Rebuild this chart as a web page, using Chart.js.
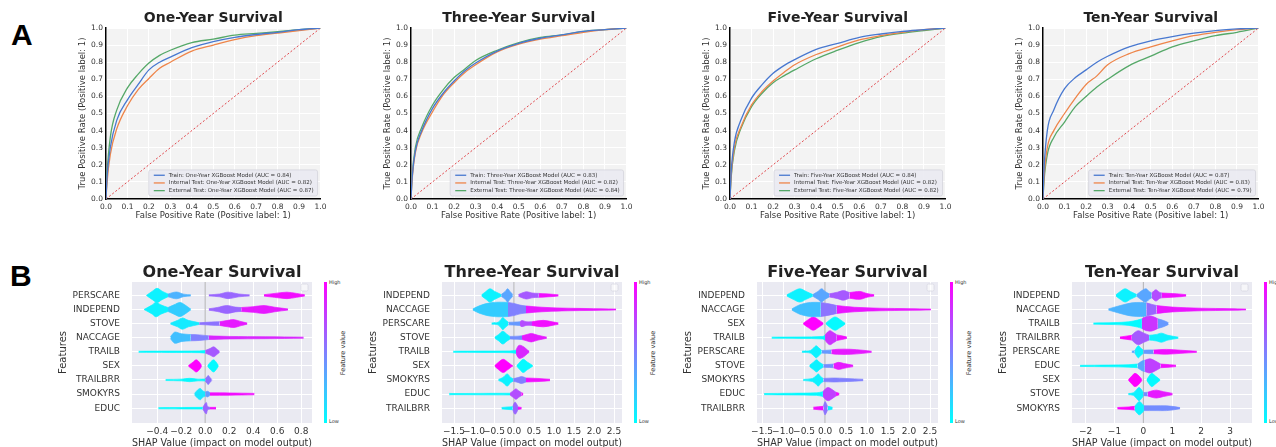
<!DOCTYPE html>
<html>
<head>
<meta charset="utf-8">
<script src="https://cdn.jsdelivr.net/npm/chart.js@4.4.1/dist/chart.umd.min.js"></script>
<style>
  body { margin: 0; width: 1276px; height: 447px; overflow: hidden; background: #fff; position: relative; font-family: 'DejaVu Sans', sans-serif; }
  canvas { position: absolute; }
  .tag { position: absolute; font: bold 30px 'Liberation Sans', Arial, sans-serif; color: #000; line-height: 1; }
  .cbar { position: absolute; width: 3px; background: linear-gradient(to top, #00ffff, #ff00ff); }
  .cb-t { position: absolute; font-size: 5px; color: #333; line-height: 1; }
  .cb-lab { position: absolute; font-size: 6.5px; color: #333; white-space: nowrap; transform: translate(-50%, -50%) rotate(-90deg); }
</style>
</head>
<body>
<div class="tag" style="left:11px;top:20px">A</div>
<div class="tag" style="left:10px;top:261px">B</div>
<script>
/* ROC curves + SHAP summaries, four survival horizons */

// ---------- ROC data ----------
const ROC_FPR = [0, 0.005, 0.02, 0.05, 0.1, 0.15, 0.2, 0.25, 0.3, 0.4, 0.5, 0.6, 0.7, 0.8, 0.9, 1.0];

const ROC1_TRAIN    = [0, 0.13, 0.30, 0.46, 0.58, 0.67, 0.755, 0.80, 0.83, 0.885, 0.92, 0.945, 0.962, 0.975, 0.99, 1];
const ROC1_INTERNAL = [0, 0.10, 0.26, 0.41, 0.545, 0.64, 0.705, 0.765, 0.80, 0.865, 0.90, 0.932, 0.955, 0.97, 0.985, 1];
const ROC1_EXTERNAL = [0, 0.15, 0.36, 0.52, 0.65, 0.73, 0.795, 0.84, 0.87, 0.915, 0.935, 0.958, 0.968, 0.978, 0.99, 1];

const ROC2_TRAIN    = [0, 0.12, 0.28, 0.40, 0.53, 0.62, 0.69, 0.75, 0.795, 0.865, 0.91, 0.94, 0.96, 0.98, 0.99, 1];
const ROC2_INTERNAL = [0, 0.11, 0.27, 0.39, 0.51, 0.61, 0.68, 0.74, 0.785, 0.86, 0.905, 0.935, 0.955, 0.975, 0.99, 1];
const ROC2_EXTERNAL = [0, 0.13, 0.30, 0.42, 0.55, 0.64, 0.71, 0.76, 0.81, 0.87, 0.915, 0.945, 0.96, 0.98, 0.99, 1];

const ROC3_TRAIN    = [0, 0.15, 0.33, 0.46, 0.59, 0.67, 0.735, 0.78, 0.815, 0.875, 0.91, 0.945, 0.965, 0.98, 0.99, 1];
const ROC3_INTERNAL = [0, 0.13, 0.30, 0.42, 0.55, 0.63, 0.69, 0.74, 0.785, 0.845, 0.89, 0.93, 0.955, 0.975, 0.99, 1];
const ROC3_EXTERNAL = [0, 0.12, 0.28, 0.41, 0.54, 0.62, 0.68, 0.72, 0.755, 0.82, 0.87, 0.915, 0.95, 0.97, 0.985, 1];

const ROC4_TRAIN    = [0, 0.18, 0.40, 0.52, 0.645, 0.71, 0.755, 0.80, 0.835, 0.89, 0.925, 0.95, 0.97, 0.985, 0.995, 1];
const ROC4_INTERNAL = [0, 0.13, 0.30, 0.40, 0.50, 0.59, 0.67, 0.72, 0.785, 0.85, 0.89, 0.925, 0.955, 0.975, 0.99, 1];
const ROC4_EXTERNAL = [0, 0.11, 0.26, 0.36, 0.45, 0.54, 0.60, 0.655, 0.70, 0.78, 0.835, 0.89, 0.925, 0.955, 0.975, 1];

const ROC_TITLES = ['One-Year Survival', 'Three-Year Survival', 'Five-Year Survival', 'Ten-Year Survival'];
const ROC_HORIZONS = ['One-Year', 'Three-Year', 'Five-Year', 'Ten-Year'];
const AUC_TRAIN    = ['0.84', '0.83', '0.84', '0.87'];
const AUC_INTERNAL = ['0.82', '0.82', '0.82', '0.83'];
const AUC_EXTERNAL = ['0.87', '0.84', '0.82', '0.79'];

// ---------- SHAP data ----------
// each violin piece: [feature value 0..1, [[shap value, half height in rows], ...]]
const SHAP1_FEATURES = ['PERSCARE', 'INDEPEND', 'STOVE', 'NACCAGE', 'TRAILB', 'SEX', 'TRAILBRR', 'SMOKYRS', 'EDUC'];
const SHAP1_TICKS = [-0.4, -0.2, 0, 0.2, 0.4, 0.6, 0.8];
const SHAP1_VIOLINS = [
  [[0.05, [[-0.49, 0], [-0.44, 0.3], [-0.40, 0.5], [-0.36, 0.3], [-0.31, 0.1]]],
   [0.3, [[-0.31, 0.1], [-0.24, 0.24], [-0.18, 0.09], [-0.12, 0.04]]],
   [0.6, [[0.03, 0.04], [0.12, 0.1], [0.19, 0.23], [0.28, 0.1], [0.37, 0.04]]],
   [0.95, [[0.49, 0.05], [0.58, 0.14], [0.68, 0.23], [0.76, 0.14], [0.83, 0.04]]]],
  [[0.05, [[-0.51, 0], [-0.44, 0.33], [-0.41, 0.52], [-0.37, 0.33], [-0.31, 0.14]]],
   [0.2, [[-0.31, 0.14], [-0.26, 0.33], [-0.21, 0.5], [-0.17, 0.33], [-0.13, 0.09], [-0.12, 0.04]]],
   [0.6, [[0.03, 0.05], [0.1, 0.14], [0.18, 0.28], [0.25, 0.17], [0.3, 0.14]]],
   [0.9, [[0.3, 0.14], [0.4, 0.2], [0.49, 0.28], [0.58, 0.16], [0.69, 0.04]]]],
  [[0.08, [[-0.29, 0.03], [-0.23, 0.23], [-0.19, 0.4], [-0.14, 0.23], [-0.05, 0.06]]],
   [0.55, [[-0.05, 0.06], [0.05, 0.11], [0.12, 0.13]]],
   [0.9, [[0.12, 0.13], [0.19, 0.23], [0.24, 0.28], [0.3, 0.14], [0.35, 0.04]]]],
  [[0.25, [[-0.29, 0.06], [-0.27, 0.28], [-0.25, 0.4], [-0.2, 0.28], [-0.12, 0.22]]],
   [0.5, [[-0.12, 0.22], [-0.05, 0.2], [0.03, 0.13]]],
   [0.85, [[0.03, 0.13], [0.2, 0.09], [0.5, 0.07], [0.82, 0.04]]]],
  [[0.02, [[-0.555, 0.04], [-0.3, 0.05], [-0.05, 0.06], [0.0, 0.09]]],
   [0.65, [[0.0, 0.09], [0.04, 0.23], [0.07, 0.35], [0.1, 0.17], [0.12, 0.04]]]],
  [[1.0, [[-0.14, 0.02], [-0.1, 0.28], [-0.075, 0.43], [-0.05, 0.28], [-0.03, 0.02]]],
   [0.02, [[0.02, 0.02], [0.045, 0.28], [0.07, 0.43], [0.09, 0.28], [0.11, 0.02]]]],
  [[0.02, [[-0.33, 0.04], [-0.2, 0.06], [-0.13, 0.12], [-0.06, 0.06], [0.0, 0.07]]],
   [0.55, [[0.0, 0.07], [0.015, 0.23], [0.025, 0.32], [0.04, 0.17], [0.055, 0.04]]]],
  [[0.1, [[-0.09, 0.04], [-0.06, 0.32], [-0.04, 0.4], [-0.02, 0.23], [0.0, 0.14]]],
   [0.4, [[0.0, 0.14], [0.02, 0.2], [0.04, 0.09]]],
   [0.95, [[0.04, 0.09], [0.2, 0.08], [0.41, 0.05]]]],
  [[0.02, [[-0.39, 0.04], [-0.2, 0.05], [-0.02, 0.06]]],
   [0.6, [[-0.02, 0.06], [0.0, 0.34], [0.01, 0.4], [0.02, 0.12], [0.04, 0.06]]],
   [0.95, [[0.04, 0.06], [0.09, 0.06]]]],
];

const SHAP2_FEATURES = ['INDEPEND', 'NACCAGE', 'PERSCARE', 'STOVE', 'TRAILB', 'SEX', 'SMOKYRS', 'EDUC', 'TRAILBRR'];
const SHAP2_TICKS = [-1.5, -1.0, -0.5, 0, 0.5, 1.0, 1.5, 2.0, 2.5];
const SHAP2_VIOLINS = [
  [[0.05, [[-0.81, 0.04], [-0.7, 0.28], [-0.6, 0.47], [-0.48, 0.28], [-0.32, 0.06]]],
   [0.35, [[-0.32, 0.06], [-0.22, 0.28], [-0.16, 0.47], [-0.1, 0.28], [-0.03, 0.06]]],
   [0.65, [[0.11, 0.06], [0.2, 0.17], [0.32, 0.26], [0.45, 0.17], [0.62, 0.14]]],
   [0.95, [[0.62, 0.14], [0.8, 0.11], [1.0, 0.07], [1.11, 0.04]]]],
  [[0.2, [[-1.03, 0.04], [-0.85, 0.28], [-0.6, 0.47], [-0.35, 0.52], [-0.15, 0.5]]],
   [0.5, [[-0.15, 0.5], [0.0, 0.43], [0.15, 0.31], [0.3, 0.25]]],
   [0.92, [[0.3, 0.25], [0.7, 0.16], [1.2, 0.1], [1.8, 0.07], [2.55, 0.03]]]],
  [[0.05, [[-0.56, 0.04], [-0.4, 0.09], [-0.33, 0.28], [-0.28, 0.43], [-0.22, 0.28], [-0.14, 0.09]]],
   [0.4, [[-0.14, 0.09], [0.05, 0.11], [0.15, 0.13]]],
   [0.7, [[0.15, 0.13], [0.2, 0.22], [0.3, 0.13], [0.45, 0.13]]],
   [0.95, [[0.45, 0.13], [0.73, 0.23], [0.95, 0.13], [1.11, 0.05]]]],
  [[0.05, [[-0.48, 0.04], [-0.38, 0.23], [-0.28, 0.45], [-0.18, 0.25], [-0.1, 0.09]]],
   [0.45, [[-0.1, 0.09], [0.1, 0.11], [0.2, 0.13]]],
   [0.9, [[0.2, 0.13], [0.35, 0.25], [0.44, 0.3], [0.6, 0.17], [0.82, 0.04]]]],
  [[0.02, [[-1.52, 0.04], [-0.8, 0.05], [-0.1, 0.06], [0.05, 0.11]]],
   [0.85, [[0.05, 0.11], [0.1, 0.4], [0.15, 0.47], [0.25, 0.34], [0.33, 0.14], [0.38, 0.04]]]],
  [[1.0, [[-0.48, 0.02], [-0.38, 0.28], [-0.27, 0.47], [-0.16, 0.28], [-0.06, 0.06], [-0.03, 0.02]]],
   [0.02, [[0.07, 0.02], [0.15, 0.28], [0.23, 0.47], [0.33, 0.28], [0.47, 0.02]]]],
  [[0.05, [[-0.39, 0.04], [-0.28, 0.17], [-0.17, 0.43], [-0.08, 0.17], [-0.02, 0.09]]],
   [0.5, [[-0.02, 0.09], [0.1, 0.17], [0.19, 0.25], [0.3, 0.14]]],
   [0.95, [[0.3, 0.14], [0.6, 0.11], [0.9, 0.05]]]],
  [[0.02, [[-1.62, 0.05], [-1.55, 0.04], [-0.8, 0.05], [-0.1, 0.06]]],
   [0.7, [[-0.1, 0.06], [0.0, 0.28], [0.05, 0.37], [0.12, 0.23], [0.18, 0.11]]],
   [0.95, [[0.18, 0.11], [0.23, 0.05]]]],
  [[0.05, [[-0.31, 0.05], [-0.15, 0.09], [-0.03, 0.11]]],
   [0.6, [[-0.03, 0.11], [0.0, 0.34], [0.03, 0.43], [0.07, 0.28], [0.1, 0.09]]],
   [0.95, [[0.1, 0.09], [0.19, 0.05]]]],
];

const SHAP3_FEATURES = ['INDEPEND', 'NACCAGE', 'SEX', 'TRAILB', 'PERSCARE', 'STOVE', 'SMOKYRS', 'EDUC', 'TRAILBRR'];
const SHAP3_TICKS = [-1.5, -1.0, -0.5, 0, 0.5, 1.0, 1.5, 2.0, 2.5];
const SHAP3_VIOLINS = [
  [[0.05, [[-0.91, 0.04], [-0.76, 0.28], [-0.6, 0.47], [-0.45, 0.28], [-0.29, 0.06]]],
   [0.35, [[-0.29, 0.06], [-0.17, 0.28], [-0.08, 0.47], [0.0, 0.28], [0.1, 0.11]]],
   [0.65, [[0.1, 0.11], [0.3, 0.23], [0.44, 0.34], [0.58, 0.2]]],
   [0.95, [[0.58, 0.2], [0.83, 0.28], [1.0, 0.13], [1.17, 0.05]]]],
  [[0.25, [[-0.79, 0.04], [-0.6, 0.34], [-0.35, 0.5], [-0.1, 0.5]]],
   [0.55, [[-0.1, 0.5], [0.1, 0.4], [0.28, 0.28]]],
   [0.92, [[0.28, 0.28], [0.7, 0.16], [1.3, 0.09], [2.0, 0.06], [2.52, 0.03]]]],
  [[1.0, [[-0.52, 0.02], [-0.4, 0.28], [-0.28, 0.47], [-0.16, 0.28], [-0.04, 0.03]]],
   [0.02, [[0.02, 0.03], [0.12, 0.28], [0.24, 0.47], [0.36, 0.28], [0.48, 0.02]]]],
  [[0.02, [[-1.27, 0.04], [-0.6, 0.05], [-0.05, 0.09], [0.0, 0.17]]],
   [0.8, [[0.0, 0.17], [0.06, 0.4], [0.12, 0.5], [0.2, 0.36], [0.28, 0.2]]],
   [0.95, [[0.28, 0.2], [0.4, 0.13], [0.52, 0.05]]]],
  [[0.05, [[-0.55, 0.04], [-0.35, 0.09], [-0.27, 0.28], [-0.21, 0.43], [-0.15, 0.28], [-0.08, 0.09]]],
   [0.4, [[-0.08, 0.09], [0.05, 0.11], [0.15, 0.13]]],
   [0.9, [[0.15, 0.13], [0.3, 0.18], [0.6, 0.18], [0.9, 0.11], [1.11, 0.04]]]],
  [[0.05, [[-0.37, 0.04], [-0.27, 0.28], [-0.2, 0.43], [-0.13, 0.25], [-0.04, 0.09]]],
   [0.45, [[-0.04, 0.09], [0.1, 0.11], [0.2, 0.13]]],
   [0.9, [[0.2, 0.13], [0.32, 0.25], [0.45, 0.17], [0.67, 0.05]]]],
  [[0.05, [[-0.52, 0.04], [-0.3, 0.11], [-0.22, 0.28], [-0.16, 0.43], [-0.1, 0.23], [-0.04, 0.11]]],
   [0.5, [[-0.04, 0.11], [0.2, 0.14], [0.5, 0.11], [0.91, 0.05]]]],
  [[0.02, [[-1.45, 0.04], [-0.8, 0.06], [-0.2, 0.09], [-0.05, 0.17]]],
   [0.75, [[-0.05, 0.17], [0.02, 0.4], [0.08, 0.47], [0.16, 0.34], [0.26, 0.13]]],
   [0.95, [[0.26, 0.13], [0.34, 0.05]]]],
  [[0.95, [[-0.28, 0.07], [-0.15, 0.11], [-0.04, 0.13]]],
   [0.55, [[-0.04, 0.13], [-0.02, 0.34], [0.0, 0.47], [0.03, 0.34], [0.06, 0.13]]],
   [0.05, [[0.06, 0.13], [0.12, 0.11], [0.18, 0.06]]]],
];

const SHAP4_FEATURES = ['INDEPEND', 'NACCAGE', 'TRAILB', 'TRAILBRR', 'PERSCARE', 'EDUC', 'SEX', 'STOVE', 'SMOKYRS'];
const SHAP4_TICKS = [-2, -1, 0, 1, 2, 3];
const SHAP4_VIOLINS = [
  [[0.05, [[-0.95, 0.04], [-0.8, 0.28], [-0.63, 0.47], [-0.45, 0.28], [-0.23, 0.06]]],
   [0.35, [[-0.23, 0.06], [-0.05, 0.34], [0.09, 0.47], [0.2, 0.28], [0.29, 0.17]]],
   [0.7, [[0.29, 0.17], [0.43, 0.4], [0.55, 0.23], [0.64, 0.17]]],
   [0.95, [[0.64, 0.17], [1.0, 0.13], [1.3, 0.09], [1.48, 0.05]]]],
  [[0.3, [[-1.21, 0.04], [-0.8, 0.28], [-0.4, 0.47], [-0.1, 0.5], [0.1, 0.47]]],
   [0.6, [[0.1, 0.47], [0.3, 0.36], [0.46, 0.28]]],
   [0.92, [[0.46, 0.28], [1.0, 0.17], [2.0, 0.09], [3.0, 0.06], [3.55, 0.03]]]],
  [[0.02, [[-1.73, 0.04], [-1.0, 0.07], [-0.5, 0.13], [-0.2, 0.25], [-0.05, 0.34]]],
   [0.8, [[-0.05, 0.34], [0.1, 0.5], [0.3, 0.52], [0.5, 0.34]]],
   [0.4, [[0.5, 0.34], [0.7, 0.22], [0.87, 0.06]]]],
  [[1.0, [[-0.81, 0.05], [-0.6, 0.11], [-0.4, 0.17]]],
   [0.65, [[-0.4, 0.17], [-0.28, 0.4], [-0.17, 0.5], [0.0, 0.34], [0.2, 0.17]]],
   [0.05, [[0.2, 0.17], [0.45, 0.23], [0.63, 0.32], [0.85, 0.17], [1.21, 0.04]]]],
  [[0.35, [[-0.4, 0.04], [-0.3, 0.07]]],
   [0.05, [[-0.3, 0.07], [-0.22, 0.34], [-0.17, 0.43], [-0.1, 0.28], [0.0, 0.11]]],
   [0.4, [[0.0, 0.11], [0.2, 0.13], [0.35, 0.13]]],
   [0.95, [[0.35, 0.13], [0.8, 0.17], [1.3, 0.11], [1.85, 0.04]]]],
  [[0.02, [[-2.19, 0.04], [-1.2, 0.06], [-0.5, 0.09], [-0.2, 0.13]]],
   [0.35, [[-0.2, 0.13], [-0.05, 0.34], [0.05, 0.4]]],
   [0.75, [[0.05, 0.4], [0.23, 0.5], [0.42, 0.34], [0.6, 0.13]]],
   [0.95, [[0.6, 0.13], [0.9, 0.09], [1.13, 0.05]]]],
  [[1.0, [[-0.52, 0.02], [-0.4, 0.28], [-0.29, 0.47], [-0.15, 0.28], [-0.05, 0.03]]],
   [0.02, [[0.12, 0.03], [0.2, 0.28], [0.29, 0.47], [0.42, 0.28], [0.58, 0.02]]]],
  [[0.05, [[-0.52, 0.04], [-0.35, 0.09], [-0.25, 0.28], [-0.15, 0.47], [-0.05, 0.28], [0.0, 0.11]]],
   [0.45, [[0.0, 0.11], [0.15, 0.13]]],
   [0.9, [[0.15, 0.13], [0.3, 0.23], [0.46, 0.28], [0.7, 0.17], [1.01, 0.05]]]],
  [[1.0, [[-0.9, 0.05], [-0.5, 0.09], [-0.3, 0.13]]],
   [0.05, [[-0.3, 0.13], [-0.22, 0.34], [-0.14, 0.47], [-0.05, 0.34], [0.02, 0.17]]],
   [0.45, [[0.02, 0.17], [0.4, 0.17], [0.8, 0.17], [1.0, 0.13], [1.27, 0.04]]]],
];

// ---------- layout (pixels) ----------
const ROC_BOXES  = [[106, 322], [411, 628], [730, 947], [1043, 1260]];
const ROC_TOP = 28, ROC_BOTTOM = 199;
const SHAP_BOXES = [[132, 312], [442, 622], [757, 938], [1072, 1252]];
const SHAP_RANGES = [[-0.61, 0.89], [-1.8, 2.7], [-1.62, 2.69], [-2.47, 3.76]];
const SHAP_TOP = 282, SHAP_BOTTOM = 423;

const C = { blue: '#4878d0', orange: '#ee854a', green: '#55a868', diag: '#e0474c' };
const FONT = "'DejaVu Sans', sans-serif";

Chart.defaults.font.family = FONT;
Chart.defaults.color = '#333';
Chart.defaults.animation = false;
Chart.defaults.events = [];
Chart.defaults.plugins.legend.display = false;
Chart.defaults.plugins.tooltip.enabled = false;

function makeCanvas(left, top, w, h) {
  const c = document.createElement('canvas');
  c.width = w; c.height = h;
  c.style.left = left + 'px'; c.style.top = top + 'px';
  c.style.width = w + 'px'; c.style.height = h + 'px';
  document.body.appendChild(c);
  return c;
}

const plotBg = {
  id: 'plotBg',
  beforeDraw(chart, args, opts) {
    const { ctx, chartArea: a } = chart;
    ctx.save();
    ctx.fillStyle = opts.color;
    ctx.fillRect(a.left, a.top, a.width, a.height);
    ctx.restore();
  }
};

const panelTitle = {
  id: 'panelTitle',
  afterDraw(chart, args, opts) {
    const { ctx, chartArea: a } = chart;
    ctx.save();
    ctx.font = `bold ${opts.size}px ${FONT}`;
    ctx.fillStyle = '#222';
    ctx.textAlign = 'center';
    ctx.textBaseline = 'middle';
    ctx.fillText(opts.text, (a.left + a.right) / 2, a.top - opts.gap);
    ctx.restore();
  }
};

const rocLegend = {
  id: 'rocLegend',
  afterDatasetsDraw(chart) {
    const { ctx, chartArea: a } = chart;
    const items = chart.data.datasets.filter(d => d.label);
    ctx.save();
    ctx.font = `5.5px ${FONT}`;
    const tw = Math.max(...items.map(d => ctx.measureText(d.label).width));
    const rowH = 7.7, w = tw + 24, h = items.length * rowH + 3;
    const x = a.right - 3 - w, y = a.bottom - 3 - h;
    ctx.fillStyle = 'rgba(234,234,242,0.9)';
    ctx.strokeStyle = '#d4d4dc';
    ctx.lineWidth = 0.8;
    ctx.beginPath(); ctx.roundRect(x, y, w, h, 2); ctx.fill(); ctx.stroke();
    items.forEach((d, i) => {
      const cy = y + 1.5 + rowH * (i + 0.5);
      ctx.strokeStyle = d.borderColor; ctx.lineWidth = 1.3;
      ctx.beginPath(); ctx.moveTo(x + 5, cy); ctx.lineTo(x + 16, cy); ctx.stroke();
      ctx.fillStyle = '#333'; ctx.textBaseline = 'middle';
      ctx.fillText(d.label, x + 20, cy);
    });
    ctx.restore();
  }
};

const emptyLegend = {
  id: 'emptyLegend',
  afterDraw(chart) {
    const { ctx, chartArea: a } = chart;
    ctx.save();
    ctx.fillStyle = 'rgba(255,255,255,0.55)';
    ctx.strokeStyle = '#d8d8e2';
    ctx.lineWidth = 0.8;
    ctx.beginPath(); ctx.roundRect(a.right - 11, a.top + 2, 7, 7, 1.5); ctx.fill(); ctx.stroke();
    ctx.restore();
  }
};

/* ---------------- ROC ---------------- */
function rocChart(k, curves) {
  const [l, r] = ROC_BOXES[k];
  const yW = 34, padR = 8, xH = 23;
  const canvas = makeCanvas(l - yW, 0, yW + (r - l) + padR, ROC_BOTTOM + xH);
  const hz = ROC_HORIZONS[k];
  const line = (label, ys, color) => ({
    label, borderColor: color, backgroundColor: color, borderWidth: 1.3, pointRadius: 0,
    cubicInterpolationMode: 'monotone', data: ROC_FPR.map((x, i) => ({ x, y: ys[i] })),
  });
  new Chart(canvas, {
    type: 'line',
    data: {
      datasets: [
        line(`Train: ${hz} XGBoost Model (AUC = ${AUC_TRAIN[k]})`, curves[0], C.blue),
        line(`Internal Test: ${hz} XGBoost Model (AUC = ${AUC_INTERNAL[k]})`, curves[1], C.orange),
        line(`External Test: ${hz} XGBoost Model (AUC = ${AUC_EXTERNAL[k]})`, curves[2], C.green),
        { borderColor: C.diag, borderWidth: 1, borderDash: [2, 2], pointRadius: 0, data: [{ x: 0, y: 0 }, { x: 1, y: 1 }] },
      ]
    },
    options: {
      responsive: false,
      layout: { padding: { top: ROC_TOP, right: padR, bottom: 0, left: 0 } },
      scales: {
        x: {
          type: 'linear', min: 0, max: 1,
          ticks: { stepSize: 0.1, padding: 3.5, font: { size: 7.5 }, maxRotation: 0, autoSkip: false, callback: v => v.toFixed(1) },
          grid: { color: '#fff', drawTicks: false },
          border: { color: '#000', width: 1.5 },
          title: { display: true, text: 'False Positive Rate (Positive label: 1)', font: { size: 8.5 }, padding: { top: 0, bottom: 1 } },
          afterFit: s => { s.height = xH; },
        },
        y: {
          type: 'linear', min: 0, max: 1,
          ticks: { stepSize: 0.1, padding: 3, font: { size: 7.5 }, autoSkip: false, callback: v => v.toFixed(1) },
          grid: { color: '#fff', drawTicks: false },
          border: { color: '#000', width: 1.5 },
          title: { display: true, text: 'True Positive Rate (Positive label: 1)', font: { size: 8.5 }, padding: { top: 5.9, bottom: 0 } },
          afterFit: s => { s.width = yW; },
        },
      },
      plugins: {
        plotBg: { color: '#f3f3f3' },
        panelTitle: { text: ROC_TITLES[k], size: 14, gap: 9.5 },
      },
    },
    plugins: [plotBg, panelTitle, rocLegend],
  });
}

/* ---------------- SHAP ---------------- */
function cool(t) {
  return `rgb(${Math.round(255 * t)},${Math.round(255 * (1 - t))},255)`;
}

function violinSets(features, violins) {
  const sets = [];
  violins.forEach((row, i) => {
    const yc = features.length - 1 - i;
    row.forEach(([t, pts]) => {
      const col = cool(t);
      const common = { borderColor: col, backgroundColor: col, borderWidth: 0.7, pointRadius: 0, tension: 0.35 };
      sets.push({ ...common, fill: false, data: pts.map(([x, h]) => ({ x, y: yc + h })) });
      sets.push({ ...common, fill: '-1', data: pts.map(([x, h]) => ({ x, y: yc - h })) });
    });
  });
  return sets;
}

function shapLabel(v, k) {
  const s = k === 3 ? Math.abs(v).toFixed(0) : Math.abs(v).toFixed(1);
  return (v < 0 ? '\u2212' : '') + s;
}

function shapChart(k, features, ticks, violins) {
  const [l, r] = SHAP_BOXES[k];
  const [xmin, xmax] = SHAP_RANGES[k];
  const yW = 80, padR = 10, top = 256, xH = 26;
  const canvas = makeCanvas(l - yW, top, yW + (r - l) + padR, SHAP_BOTTOM - top + xH);
  const rows = features.map((_, i) => i);
  const zero = { borderColor: '#9a9aa0', borderWidth: 0.8, pointRadius: 0, data: [{ x: 0, y: -1.05 }, { x: 0, y: 8.95 }] };
  new Chart(canvas, {
    type: 'line',
    data: { datasets: [...violinSets(features, violins), zero] },
    options: {
      responsive: false,
      layout: { padding: { top: SHAP_TOP - top, right: padR, bottom: 0, left: 0 } },
      scales: {
        x: {
          type: 'linear', min: xmin, max: xmax,
          afterBuildTicks: s => { s.ticks = ticks.map(v => ({ value: v })); },
          ticks: { padding: 3.6, font: { size: 9 }, maxRotation: 0, autoSkip: false, callback: v => shapLabel(v, k) },
          grid: { color: '#fff', drawTicks: false },
          border: { display: false },
          title: { display: true, text: 'SHAP Value (impact on model output)', font: { size: 10 }, padding: { top: 0, bottom: 0 } },
          afterFit: s => { s.height = xH; },
        },
        y: {
          type: 'linear', min: -1.05, max: 8.95,
          afterBuildTicks: s => { s.ticks = rows.map(v => ({ value: v })); },
          ticks: { padding: 12, font: { size: 9 }, autoSkip: false, callback: v => features[features.length - 1 - v] },
          grid: { color: '#fff', drawTicks: false },
          border: { display: false },
          title: { display: true, text: 'Features', font: { size: 10 }, padding: { top: 5, bottom: 0 } },
          afterFit: s => { s.width = yW; },
        },
      },
      plugins: {
        plotBg: { color: '#eaeaf2' },
        panelTitle: { text: ROC_TITLES[k], size: 16, gap: 9 },
      },
    },
    plugins: [plotBg, panelTitle, emptyLegend],
  });

  // colour bar
  const cx = r + 12;
  document.body.insertAdjacentHTML('beforeend',
    `<div class="cbar" style="left:${cx}px;top:${SHAP_TOP}px;height:${SHAP_BOTTOM - SHAP_TOP}px"></div>
     <div class="cb-t" style="left:${cx + 5}px;top:${SHAP_TOP - 2}px">High</div>
     <div class="cb-t" style="left:${cx + 5}px;top:${SHAP_BOTTOM - 4}px">Low</div>
     <div class="cb-lab" style="left:${cx + 19}px;top:${(SHAP_TOP + SHAP_BOTTOM) / 2}px">Feature value</div>`);
}

rocChart(0, [ROC1_TRAIN, ROC1_INTERNAL, ROC1_EXTERNAL]);
rocChart(1, [ROC2_TRAIN, ROC2_INTERNAL, ROC2_EXTERNAL]);
rocChart(2, [ROC3_TRAIN, ROC3_INTERNAL, ROC3_EXTERNAL]);
rocChart(3, [ROC4_TRAIN, ROC4_INTERNAL, ROC4_EXTERNAL]);

shapChart(0, SHAP1_FEATURES, SHAP1_TICKS, SHAP1_VIOLINS);
shapChart(1, SHAP2_FEATURES, SHAP2_TICKS, SHAP2_VIOLINS);
shapChart(2, SHAP3_FEATURES, SHAP3_TICKS, SHAP3_VIOLINS);
shapChart(3, SHAP4_FEATURES, SHAP4_TICKS, SHAP4_VIOLINS);
</script>
</body>
</html>
